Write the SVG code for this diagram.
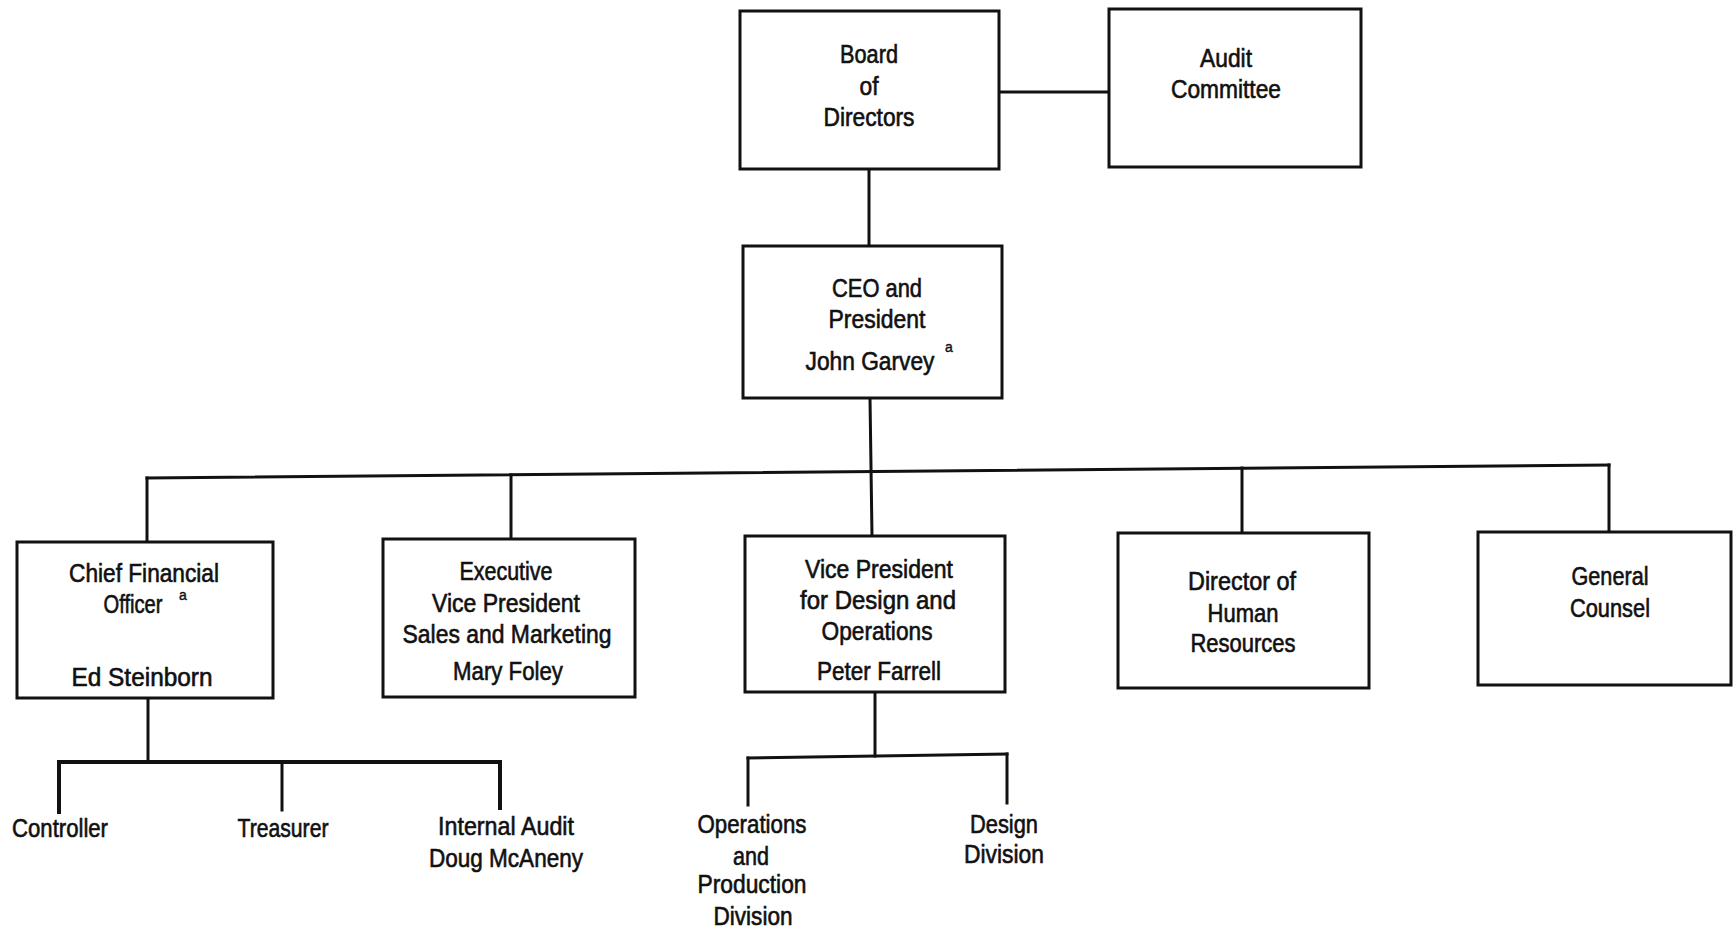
<svg xmlns="http://www.w3.org/2000/svg" width="1734" height="931" viewBox="0 0 1734 931">
<style>
.box{fill:#fff;stroke:#111;stroke-width:3}
.ln{stroke:#111;stroke-width:3;fill:none;stroke-linecap:square}
.ln2{stroke:#111;stroke-width:4;fill:none;stroke-linecap:square}
text{font-family:"Liberation Sans",Arial,sans-serif;font-size:25px;fill:#111;stroke:#111;stroke-width:0.6;text-anchor:middle}
.sup{font-size:14px;stroke-width:0.4}
</style>
<rect width="1734" height="931" fill="#fff"/>
<g id="connectors">
<line class="ln" x1="999" y1="92" x2="1109" y2="92"/>
<line class="ln" x1="869" y1="169" x2="869" y2="246"/>
<line class="ln" x1="870" y1="398" x2="872" y2="536"/>
<line class="ln" x1="147" y1="478" x2="1609" y2="465"/>
<line class="ln" x1="147" y1="478" x2="147" y2="542"/>
<line class="ln" x1="511" y1="475" x2="511" y2="539"/>
<line class="ln" x1="1242" y1="468" x2="1242" y2="533"/>
<line class="ln" x1="1609" y1="465" x2="1609" y2="532"/>
<line class="ln" x1="148" y1="698" x2="148" y2="762"/>
<line class="ln2" x1="59" y1="762" x2="500" y2="762"/>
<line class="ln2" x1="59" y1="762" x2="59" y2="812"/>
<line class="ln" x1="282" y1="762" x2="282" y2="810"/>
<line class="ln2" x1="500" y1="762" x2="500" y2="808"/>
<line class="ln" x1="875" y1="692" x2="875" y2="756"/>
<line class="ln" x1="748" y1="758" x2="1007" y2="754"/>
<line class="ln" x1="748" y1="758" x2="748" y2="805"/>
<line class="ln" x1="1007" y1="754" x2="1007" y2="803"/>
</g>
<g id="board">
<rect class="box" x="740" y="11" width="259" height="158"/>
<text x="869" y="63" textLength="58" lengthAdjust="spacingAndGlyphs">Board</text>
<text x="869" y="95" textLength="19" lengthAdjust="spacingAndGlyphs">of</text>
<text x="869" y="126" textLength="91" lengthAdjust="spacingAndGlyphs">Directors</text>
</g>
<g id="audit">
<rect class="box" x="1109" y="9" width="252" height="158"/>
<text x="1226" y="67" textLength="52" lengthAdjust="spacingAndGlyphs">Audit</text>
<text x="1226" y="98" textLength="110" lengthAdjust="spacingAndGlyphs">Committee</text>
</g>
<g id="ceo">
<rect class="box" x="743" y="246" width="259" height="152"/>
<text x="877" y="297" textLength="90" lengthAdjust="spacingAndGlyphs">CEO and</text>
<text x="877" y="328" textLength="97" lengthAdjust="spacingAndGlyphs">President</text>
<text x="870" y="370" textLength="129" lengthAdjust="spacingAndGlyphs">John Garvey</text>
<text class="sup" x="949" y="352">a</text>
</g>
<g id="cfo">
<rect class="box" x="17" y="542" width="256" height="156"/>
<text x="144" y="582" textLength="150" lengthAdjust="spacingAndGlyphs">Chief Financial</text>
<text x="133" y="613" textLength="59" lengthAdjust="spacingAndGlyphs">Officer</text>
<text class="sup" x="183" y="600">a</text>
<text x="142" y="686" textLength="141" lengthAdjust="spacingAndGlyphs">Ed Steinborn</text>
</g>
<g id="evp">
<rect class="box" x="383" y="539" width="252" height="158"/>
<text x="506" y="580" textLength="93" lengthAdjust="spacingAndGlyphs">Executive</text>
<text x="506" y="612" textLength="148" lengthAdjust="spacingAndGlyphs">Vice President</text>
<text x="507" y="643" textLength="209" lengthAdjust="spacingAndGlyphs">Sales and Marketing</text>
<text x="508" y="680" textLength="110" lengthAdjust="spacingAndGlyphs">Mary Foley</text>
</g>
<g id="vp-design">
<rect class="box" x="745" y="536" width="260" height="156"/>
<text x="879" y="578" textLength="148" lengthAdjust="spacingAndGlyphs">Vice President</text>
<text x="878" y="609" textLength="156" lengthAdjust="spacingAndGlyphs">for Design and</text>
<text x="877" y="640" textLength="111" lengthAdjust="spacingAndGlyphs">Operations</text>
<text x="879" y="680" textLength="124" lengthAdjust="spacingAndGlyphs">Peter Farrell</text>
</g>
<g id="hr">
<rect class="box" x="1118" y="533" width="251" height="155"/>
<text x="1242" y="590" textLength="108" lengthAdjust="spacingAndGlyphs">Director of</text>
<text x="1243" y="622" textLength="71" lengthAdjust="spacingAndGlyphs">Human</text>
<text x="1243" y="652" textLength="105" lengthAdjust="spacingAndGlyphs">Resources</text>
</g>
<g id="counsel">
<rect class="box" x="1478" y="532" width="253" height="153"/>
<text x="1610" y="585" textLength="77" lengthAdjust="spacingAndGlyphs">General</text>
<text x="1610" y="617" textLength="80" lengthAdjust="spacingAndGlyphs">Counsel</text>
</g>
<g id="controller">
<text x="60" y="837" textLength="96" lengthAdjust="spacingAndGlyphs">Controller</text>
</g>
<g id="treasurer">
<text x="283" y="837" textLength="91" lengthAdjust="spacingAndGlyphs">Treasurer</text>
</g>
<g id="internal-audit">
<text x="506" y="835" textLength="136" lengthAdjust="spacingAndGlyphs">Internal Audit</text>
<text x="506" y="867" textLength="154" lengthAdjust="spacingAndGlyphs">Doug McAneny</text>
</g>
<g id="ops-division">
<text x="752" y="833" textLength="109" lengthAdjust="spacingAndGlyphs">Operations</text>
<text x="751" y="865" textLength="36" lengthAdjust="spacingAndGlyphs">and</text>
<text x="752" y="893" textLength="109" lengthAdjust="spacingAndGlyphs">Production</text>
<text x="753" y="925" textLength="79" lengthAdjust="spacingAndGlyphs">Division</text>
</g>
<g id="design-division">
<text x="1004" y="833" textLength="68" lengthAdjust="spacingAndGlyphs">Design</text>
<text x="1004" y="863" textLength="80" lengthAdjust="spacingAndGlyphs">Division</text>
</g>
</svg>
